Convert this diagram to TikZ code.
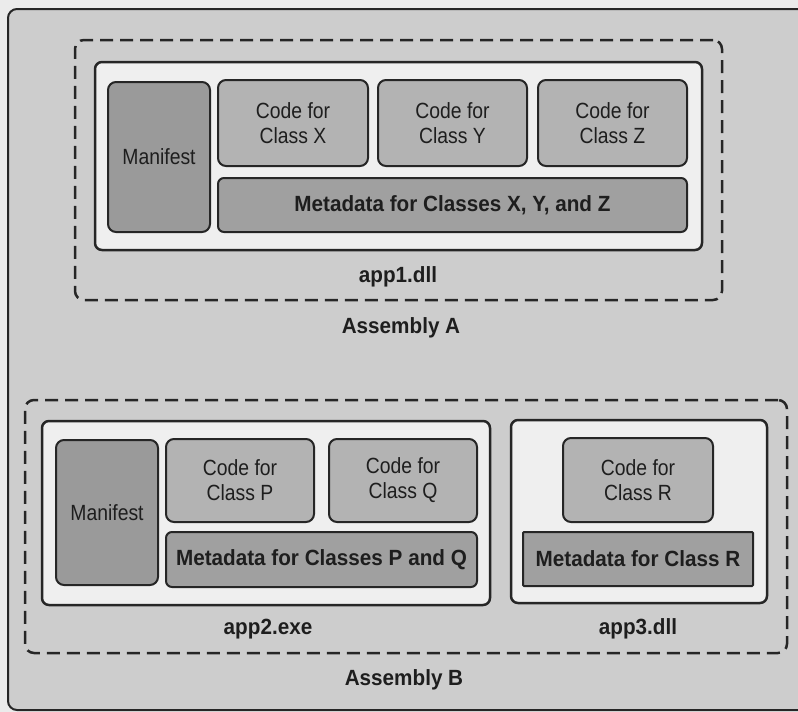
\documentclass[tikz,border=0pt]{standalone}
\usepackage{fontspec}
\setmainfont{Liberation Sans}[FakeStretch=0.88, BoldFeatures={FakeStretch=0.94}]
\definecolor{pagebg}{HTML}{EBEBEB}
\definecolor{framebg}{HTML}{CDCDCD}
\definecolor{appbg}{HTML}{EFEFEF}
\definecolor{manfill}{HTML}{9A9A9A}
\definecolor{codefill}{HTML}{B3B3B3}
\definecolor{metafill}{HTML}{A0A0A0}
\definecolor{ink}{HTML}{262626}
\definecolor{txt}{HTML}{1E1E1E}
\tikzset{
  box/.style={draw=ink, rectangle, inner sep=0pt, outer sep=0pt, text=txt, align=center,
              font=\fontsize{22}{25}\selectfont},
  asmbox/.style={box, dashed, dash pattern=on 13pt off 7pt, line width=2.5pt, rounded corners=9pt},
  appbox/.style={box, fill=appbg, line width=2.5pt, rounded corners=7pt},
  manbox/.style={box, fill=manfill, line width=2pt, rounded corners=8pt},
  codebox/.style={box, fill=codefill, line width=2pt, rounded corners=8pt},
  metabox/.style={box, fill=metafill, line width=2pt, rounded corners=6pt,
                  font=\fontsize{22}{25}\selectfont\bfseries},
  lbl/.style={text=txt, inner sep=0pt, font=\fontsize{22}{24}\selectfont\bfseries}
}
\begin{document}
\begin{tikzpicture}[x=1pt,y=-1pt]
\useasboundingbox (0,0) rectangle (798,712);
\fill[pagebg] (0,0) rectangle (798,712);
\draw[draw=ink, fill=framebg, line width=2pt, rounded corners=9pt] (8,9) rectangle (812,710);

% Assembly A
\node[asmbox, minimum width=647pt, minimum height=260pt] (asmA) at (398.5,170) {};
\node[appbox, minimum width=607pt, minimum height=188pt] (app1) at (398.5,156) {};
\node[manbox, minimum width=102pt, minimum height=150pt] (manA) at (159,157) {Manifest};
\node[codebox, minimum width=150pt, minimum height=86pt] (codeX) at (293,123) {Code for\\Class X};
\node[codebox, minimum width=149pt, minimum height=86pt] (codeY) at (452.5,123) {Code for\\Class Y};
\node[codebox, minimum width=149pt, minimum height=86pt] (codeZ) at (612.5,123) {Code for\\Class Z};
\node[metabox, minimum width=469pt, minimum height=54pt] (metaA) at (452.5,205) {Metadata for Classes X, Y, and Z};
\node[lbl] (lapp1) at (398,277) {app1.dll};
\node[lbl] (lasmA) at (401,328) {Assembly A};

% Assembly B
\node[asmbox, minimum width=762pt, minimum height=253pt] (asmB) at (406,526.5) {};
\node[appbox, minimum width=448pt, minimum height=184pt] (app2) at (266,513) {};
\node[manbox, minimum width=102pt, minimum height=145pt] (manB) at (107,512.5) {Manifest};
\node[codebox, minimum width=148pt, minimum height=83pt] (codeP) at (240,480.5) {Code for\\Class P};
\node[codebox, minimum width=148pt, minimum height=83pt] (codeQ) at (403,480.5) {Code for\\Class Q};
\node[metabox, minimum width=311pt, minimum height=55pt] (metaPQ) at (321.5,559.5) {Metadata for Classes P and Q};
\node[lbl] (lapp2) at (268,629) {app2.exe};

\node[appbox, minimum width=256pt, minimum height=183pt] (app3) at (639,511.5) {};
\node[codebox, minimum width=150pt, minimum height=84pt] (codeR) at (638,480) {Code for\\Class R};
\node[metabox, rounded corners=1pt, minimum width=230pt, minimum height=54pt] (metaR) at (638,559) {Metadata for Class R};
\node[lbl] (lapp3) at (638,629) {app3.dll};
\node[lbl] (lasmB) at (404,680) {Assembly B};
\end{tikzpicture}
\end{document}
